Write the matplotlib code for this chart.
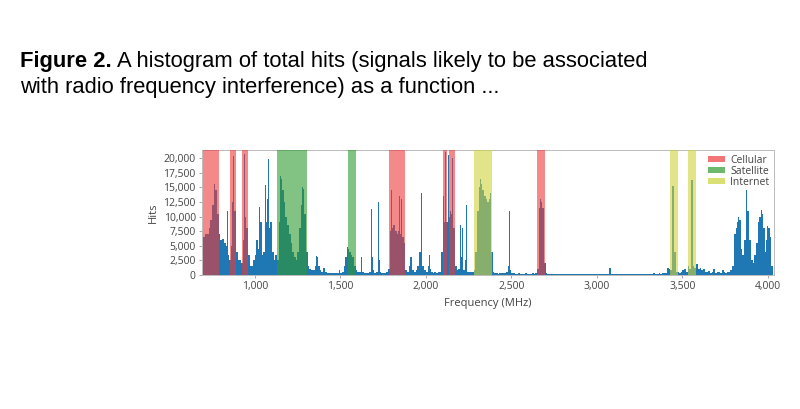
import matplotlib
matplotlib.use("Agg")
from matplotlib import pyplot as plt
from matplotlib.patches import Patch
import numpy as np

# histogram, 10 MHz bins starting at 700 MHz (hits per bin)
bin_start = 700
bin_width = 10
hits = [
    6500, 7000, 7000, 8000, 9500, 12000, 15500, 14500, 10500, 7000,   # 700
    6000, 6200, 5500, 5000, 3500, 2500, 5000, 12500, 11000, 4000,     # 800
    2500, 2500, 2000, 6000, 10000, 8000, 3500, 1500, 1500, 2500,      # 900
    3500, 6000, 4500, 9000, 3500, 4000, 9000, 13000, 8000, 9000,      # 1000
    4000, 2500, 3500, 2500, 9000, 16500, 14500, 12500, 10000, 8500,   # 1100
    7000, 5500, 4000, 3000, 2500, 4000, 8000, 12000, 14800, 10500,    # 1200
    4000, 1500, 1000, 800, 900, 1500, 3000, 1500, 800, 600,           # 1300
    1200, 600, 400, 300, 300, 400, 300, 300, 400, 800,                # 1400
    300, 500, 1500, 3000, 4500, 4000, 3500, 3000, 1500, 800,          # 1500
    500, 600, 2500, 500, 300, 400, 300, 500, 3000, 800,               # 1600
    400, 500, 2500, 500, 300, 400, 300, 500, 1000, 7500,              # 1700
    8000, 8500, 7500, 7000, 7500, 7000, 6500, 5500, 800, 600,         # 1800
    1500, 3000, 800, 600, 800, 1500, 4000, 6000, 1500, 800,           # 1900
    600, 1500, 1000, 500, 400, 500, 400, 500, 600, 4000,              # 2000
    9000, 11000, 9000, 10000, 11000, 10500, 8000, 1500, 800, 1000,    # 2100
    3000, 2500, 800, 2500, 600, 500, 500, 600, 800, 4000,             # 2200
    11000, 15000, 15500, 14500, 13500, 13000, 12500, 13000, 4000, 500,  # 2300
    300, 300, 250, 300, 300, 300, 400, 500, 1500, 800,                # 2400
    300, 300, 250, 200, 300, 250, 200, 200, 300, 200,                 # 2500
    200, 200, 300, 200, 400, 1000, 11500, 12500, 11500, 2000,         # 2600
    400, 200, 150, 200, 150, 200, 150, 150, 200, 150,                 # 2700
    150, 200, 150, 150, 200, 150, 150, 200, 150, 150,                 # 2800
    200, 150, 150, 200, 150, 150, 200, 150, 250, 150,                 # 2900
    150, 200, 150, 150, 200, 150, 150, 1200, 200, 150,                # 3000
    150, 200, 150, 150, 200, 150, 150, 200, 150, 150,                 # 3100
    200, 150, 150, 200, 150, 150, 200, 150, 150, 200,                 # 3200
    200, 250, 200, 300, 200, 250, 300, 250, 300, 400,                 # 3300
    400, 1200, 1000, 800, 15300, 4000, 600, 500, 400, 600,            # 3400
    800, 1000, 600, 1500, 1000, 16200, 1500, 1200, 1800, 1000,        # 3500
    1200, 800, 1000, 600, 500, 700, 400, 500, 1000, 400,              # 3600
    600, 500, 400, 800, 500, 400, 600, 500, 800, 1500,                # 3700
    7000, 8000, 9000, 9500, 4500, 3500, 6000, 12000, 11000, 6000,     # 3800
    2500, 2000, 3500, 5500, 9000, 10000, 10500, 8000, 4000, 6000,     # 3900
    8000, 6500, 1500,                                                 # 4000
]

# narrow spikes on top of the bins (MHz, hits)
spike_freq = [832, 840, 878, 942, 1027, 1062, 1066, 1082, 1150, 1280, 1362,
              1544, 1623, 1685, 1724, 1802, 1846, 1860, 1973, 2021, 2105,
              2115, 2134, 2154, 2201, 2213, 2236, 2318, 2376, 2489, 2670,
              3830, 3876, 3960, 3999]
spike_hits = [17700, 11000, 20300, 20800, 11700, 15400, 19700, 19900, 17000, 15000, 3200,
              4800, 3000, 11300, 12500, 14500, 13500, 13000, 14000, 3400, 13500,
              21000, 20500, 20000, 8500, 8000, 12000, 16500, 14000, 11000, 13000,
              10000, 14500, 11200, 8400]

# allocated bands (MHz)
cellular = [(700, 790), (857, 890), (928, 961), (1787, 1878), (2100, 2125),
            (2135, 2168), (2652, 2697)]
satellite = [(1130, 1307), (1544, 1593)]
internet = [(2283, 2384), (3430, 3472), (3533, 3580)]

band_colors = {"Cellular": "#ee3a3a", "Satellite": "#2f9a2f", "Internet": "#cdd33a"}
band_alpha = 0.6
blue = "#1f77b4"

fig = plt.figure(figsize=(8, 4.09), dpi=100)

# caption above the chart
cap_size = 15.8
t1 = fig.text(0.025, 0.837, "Figure 2.", fontsize=cap_size, fontweight="bold",
              family="Liberation Sans", color="black")
fig.canvas.draw()
bb = t1.get_window_extent(fig.canvas.get_renderer())
x_next = (bb.x1 + 5) / fig.bbox.width
fig.text(x_next, 0.837, "A histogram of total hits (signals likely to be associated",
         fontsize=cap_size, family="Liberation Sans", color="black")
fig.text(0.025, 0.773, "with radio frequency interference) as a function ...",
         fontsize=cap_size, family="Liberation Sans", color="black")

ax = fig.add_axes([0.2525, 0.3276, 0.7150, 0.3056])

edges = bin_start + bin_width * np.arange(len(hits) + 1)
ax.stairs(hits, edges, fill=True, color=blue, linewidth=0, zorder=2)
ax.bar(spike_freq, spike_hits, width=5, color=blue, linewidth=0, zorder=2)

for name, bands in [("Cellular", cellular), ("Satellite", satellite), ("Internet", internet)]:
    for lo, hi in bands:
        ax.axvspan(lo, hi, color=band_colors[name], alpha=band_alpha, lw=0, zorder=3)

ax.set_xlim(692, 4035)
ax.set_ylim(0, 21400)
ax.set_xticks([1000, 1500, 2000, 2500, 3000, 3500, 4000])
ax.set_yticks(np.arange(0, 20001, 2500))
ax.xaxis.set_major_formatter(matplotlib.ticker.StrMethodFormatter("{x:,.0f}"))
ax.yaxis.set_major_formatter(matplotlib.ticker.StrMethodFormatter("{x:,.0f}"))

for lab in ax.get_xticklabels() + ax.get_yticklabels():
    lab.set_fontfamily("Open Sans")
    lab.set_fontsize(7.5)
    lab.set_color("#444444")
ax.tick_params(length=2.5, width=0.6, color="#999999", pad=2)
for sp in ax.spines.values():
    sp.set_color("#bbbbbb")
    sp.set_linewidth(0.7)

ax.set_xlabel("Frequency (MHz)", fontsize=8, family="Open Sans", color="#444444", labelpad=4)
ax.set_ylabel("Hits", fontsize=8, family="Open Sans", color="#444444", labelpad=3)

handles = [Patch(facecolor=band_colors[n], alpha=0.7, lw=0, label=n)
           for n in ["Cellular", "Satellite", "Internet"]]
ax.legend(handles=handles, loc="upper right", frameon=False,
          prop={"family": "Open Sans", "size": 7.5}, handlelength=1.6,
          handleheight=0.45, handletextpad=0.5, labelspacing=0.0,
          borderaxespad=0.15, borderpad=0.3, labelcolor="#444444")

plt.savefig("out.png", dpi=100)
